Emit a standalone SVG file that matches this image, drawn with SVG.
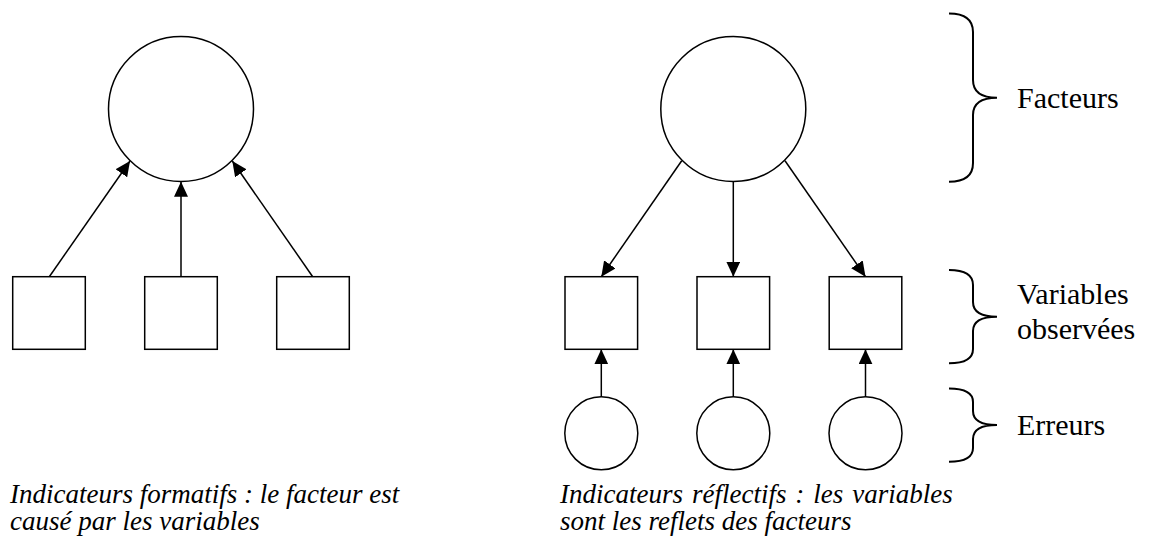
<svg xmlns="http://www.w3.org/2000/svg" width="1149" height="540" viewBox="0 0 1149 540">
<style>
.shape{fill:#fff;stroke:#000;stroke-width:1.5}
.conn{fill:none;stroke:#000;stroke-width:1.5;marker-end:url(#ah)}
.brace{fill:none;stroke:#000;stroke-width:2}
.cap{font-family:"Liberation Serif","Times New Roman",serif;font-style:italic;font-size:27px;fill:#000}
.lab{font-family:"Liberation Serif","Times New Roman",serif;font-size:30px;fill:#000}
</style>
<defs>
<marker id="ah" markerUnits="userSpaceOnUse" markerWidth="15" markerHeight="14" refX="15" refY="7" orient="auto">
<path d="M0,0 L15,7 L0,14 z" fill="#000"/>
</marker>
</defs>
<rect width="1149" height="540" fill="#fff"/>
<g id="connectors">
<line class="conn" x1="49.3" y1="276.7" x2="130" y2="161"/>
<line class="conn" x1="181" y1="276.7" x2="181" y2="181.7"/>
<line class="conn" x1="312.7" y1="276.7" x2="232.3" y2="161"/>
<line class="conn" x1="681.7" y1="160.7" x2="601.3" y2="276.7"/>
<line class="conn" x1="733.3" y1="181.7" x2="733.3" y2="276.7"/>
<line class="conn" x1="785" y1="160.7" x2="865.5" y2="276.7"/>
<line class="conn" x1="601.3" y1="396.8" x2="601.3" y2="349.3"/>
<line class="conn" x1="733.3" y1="396.8" x2="733.3" y2="349.3"/>
<line class="conn" x1="865.5" y1="396.8" x2="865.5" y2="349.3"/>
</g>
<g id="factor-formative"><circle class="shape" cx="181" cy="109" r="72.5"/></g>
<g id="var-f1"><rect class="shape" x="12.7" y="276.7" width="72.6" height="72.6"/></g>
<g id="var-f2"><rect class="shape" x="144.7" y="276.7" width="72.6" height="72.6"/></g>
<g id="var-f3"><rect class="shape" x="276.7" y="276.7" width="72.6" height="72.6"/></g>
<g id="factor-reflective"><circle class="shape" cx="733.3" cy="109" r="72.5"/></g>
<g id="var-r1"><rect class="shape" x="565" y="276.7" width="72.6" height="72.6"/></g>
<g id="var-r2"><rect class="shape" x="697" y="276.7" width="72.6" height="72.6"/></g>
<g id="var-r3"><rect class="shape" x="829.2" y="276.7" width="72.6" height="72.6"/></g>
<g id="err-1"><circle class="shape" cx="601.3" cy="433.3" r="36.5"/></g>
<g id="err-2"><circle class="shape" cx="733.3" cy="433.3" r="36.5"/></g>
<g id="err-3"><circle class="shape" cx="865.5" cy="433.3" r="36.5"/></g>
<g id="brace-facteurs">
<path class="brace" d="M949,13.5 Q973,13.5 973,32 L973,80 Q973,97.7 997,97.7 Q973,97.7 973,115 L973,163 Q973,181.7 949,181.7"/>
<text class="lab" x="1017" y="107.5">Facteurs</text>
</g>
<g id="brace-variables">
<path class="brace" d="M949,270 Q973,270 973,285 L973,302 Q973,316.7 997,316.7 Q973,316.7 973,331 L973,349 Q973,363.3 949,363.3"/>
<text class="lab" x="1017" y="304">Variables</text>
<text class="lab" x="1017" y="339">observées</text>
</g>
<g id="brace-erreurs">
<path class="brace" d="M949,388.5 Q973,388.5 973,402 L973,411 Q973,425 997,425 Q973,425 973,439 L973,448 Q973,461.7 949,461.7"/>
<text class="lab" x="1017" y="435">Erreurs</text>
</g>
<g id="caption-formative">
<text class="cap" x="10" y="503">Indicateurs formatifs : le facteur est</text>
<text class="cap" x="10" y="530">causé par les variables</text>
</g>
<g id="caption-reflective">
<text class="cap" x="560" y="503" word-spacing="2.2">Indicateurs réflectifs : les variables</text>
<text class="cap" x="560" y="530">sont les reflets des facteurs</text>
</g>
</svg>
